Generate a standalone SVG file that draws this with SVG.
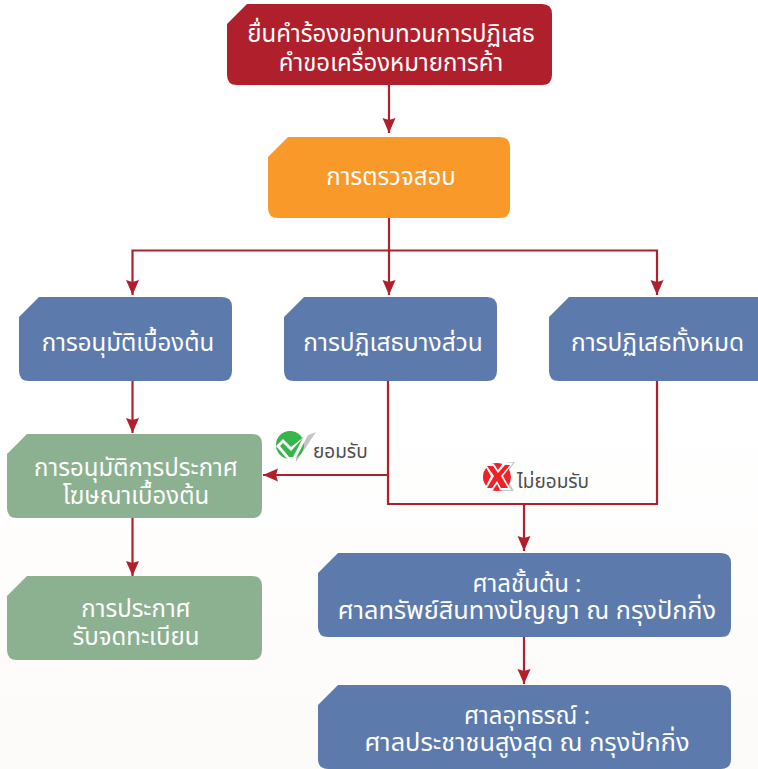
<svg xmlns="http://www.w3.org/2000/svg" width="758" height="769" viewBox="0 0 758 769">
<style>
.t{font-family:"Noto Sans","Noto Sans Thai","Liberation Sans",sans-serif;font-size:24px;fill:#fff;text-anchor:middle}
.m{font-size:24.500px}
.b{font-size:25.300px}
.l{font-family:"Noto Sans","Noto Sans Thai","Liberation Sans",sans-serif;font-size:19px;fill:#4d4d4f}
.c{fill:none;stroke:#b0202c;stroke-width:2.2}
.blue{fill:#5d7aad}.green{fill:#8bb191}
</style>
<defs>
<marker id="a" markerUnits="userSpaceOnUse" markerWidth="16" markerHeight="14" refX="15" refY="6.500" orient="auto" viewBox="0 0 16 13"><path d="M0 0L15 6.500L0 13L2 6.500Z" fill="#b0202c"/></marker>
<linearGradient id="bg" x1="0" y1="0" x2="0" y2="1"><stop offset="0" stop-color="#fff"/><stop offset="1" stop-color="#fdfbf9"/></linearGradient>
</defs>
<rect width="758" height="769" fill="#fff"/>
<rect y="400" width="758" height="369" fill="url(#bg)"/>
<g id="connectors">
<path class="c" d="M389 85V133" marker-end="url(#a)"/>
<path class="c" d="M389 218V295" marker-end="url(#a)"/>
<path class="c" d="M389 250.500H132.500V295" marker-end="url(#a)"/>
<path class="c" d="M389 250.500H657V295" marker-end="url(#a)"/>
<path class="c" d="M132.500 381V433" marker-end="url(#a)"/>
<path class="c" d="M132.500 518V576" marker-end="url(#a)"/>
<path class="c" d="M388 381V504H657V381"/>
<path class="c" d="M388 475H263" marker-end="url(#a)"/>
<path class="c" d="M524 504V551" marker-end="url(#a)"/>
<path class="c" d="M524 637V684" marker-end="url(#a)"/>
</g>
<g id="n1"><path fill="#b0202c" d="M247 4H542Q552 4 552 14V75Q552 85 542 85H237Q227 85 227 75V24Z"/><text class="t" x="391" y="42">ยื่นคำร้องขอทบทวนการปฏิเสธ</text><text class="t" x="391" y="71">คำขอเครื่องหมายการค้า</text></g>
<g id="n2"><path fill="#f8992a" d="M288 137H500Q510 137 510 147V208Q510 218 500 218H278Q268 218 268 208V157Z"/><text class="t" x="391" y="185">การตรวจสอบ</text></g>
<g id="n3"><path class="blue" d="M39 297H222Q232 297 232 307V371Q232 381 222 381H29Q19 381 19 371V317Z"/><text class="t" x="128" y="351">การอนุมัติเบื้องต้น</text></g>
<g id="n4"><path class="blue" d="M304 297H487Q497 297 497 307V371Q497 381 487 381H294Q284 381 284 371V317Z"/><text class="t m" x="393" y="351">การปฏิเสธบางส่วน</text></g>
<g id="n5"><path class="blue" d="M569 297H768V381H559Q549 381 549 371V317Z"/><text class="t m" x="657.500" y="351">การปฏิเสธทั้งหมด</text></g>
<g id="n6"><path class="green" d="M27 434H252Q262 434 262 444V508Q262 518 252 518H17Q7 518 7 508V454Z"/><text class="t" x="136" y="476">การอนุมัติการประกาศ</text><text class="t" x="136" y="504">โฆษณาเบื้องต้น</text></g>
<g id="n7"><path class="green" d="M27 576H252Q262 576 262 586V650Q262 660 252 660H17Q7 660 7 650V596Z"/><text class="t" x="136" y="617">การประกาศ</text><text class="t" x="136" y="645">รับจดทะเบียน</text></g>
<g id="n8"><path class="blue" d="M338 553H721Q731 553 731 563V627Q731 637 721 637H328Q318 637 318 627V573Z"/><text class="t" x="527" y="592">ศาลชั้นต้น :</text><text class="t b" x="527" y="619">ศาลทรัพย์สินทางปัญญา ณ กรุงปักกิ่ง</text></g>
<g id="n9"><path class="blue" d="M338 685H721Q731 685 731 695V759Q731 769 721 769H328Q318 769 318 759V705Z"/><text class="t" x="527" y="724">ศาลอุทธรณ์ :</text><text class="t b" x="527" y="751">ศาลประชาชนสูงสุด ณ กรุงปักกิ่ง</text></g>
<g id="accept">
<path d="M296 440L316 432L296 462Z" fill="#c4c4c4"/>
<circle cx="290" cy="445" r="14" fill="#37b44a"/>
<path d="M276 446L283 439L291 447L309 433L295 460H288Z" fill="#fff"/>
<path d="M280 446L283 443L291 451L303 438L293 457H289Z" fill="#37b44a"/>
<text class="l" x="313" y="458">ยอมรับ</text>
</g>
<g id="reject">
<path d="M503 463L515 462L505 476L514 491H500Z" fill="#c4c4c4"/>
<circle cx="497" cy="477" r="14" fill="#ed2227"/>
<path d="M484 464H494L498 470L503 463H513L503 476L511 490H500L497 484L493 490H484L491 476Z" fill="#fff"/>
<path d="M487 466H493L498 473L505 465H510L501 476L508 488H501L497 481L492 488H487L494 476Z" fill="#ed2227"/>
<text class="l" x="517" y="488">ไม่ยอมรับ</text>
</g>
</svg>
